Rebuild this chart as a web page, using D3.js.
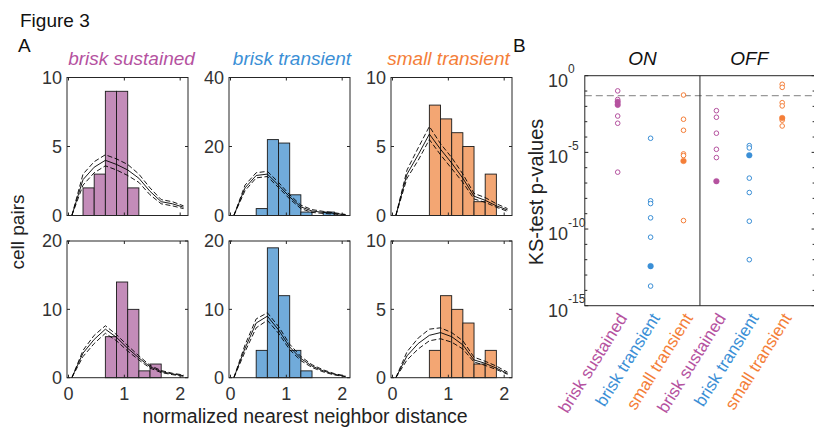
<!DOCTYPE html>
<html lang="en">
<head>
<meta charset="UTF-8" />
<title>Figure 3</title>
<script src="https://d3js.org/d3.v7.min.js"></script>
<style>
  body { margin: 0; background: #fff; }
  svg { display: block; font-family: "Liberation Sans", Arial, sans-serif; }
</style>
</head>
<body>
<svg width="814" height="427"></svg>
<script>
// cell types, shared by both panels
const cellTypes = ["brisk sustained", "brisk transient", "small transient"];
const typeColors = ["#b5529f", "#3b8fd6", "#f47e38"];
const barColors = ["#c38cb9", "#71abda", "#f3a673"];

// panel A: histograms of normalized nearest neighbor distance
const binStart = 0.06;
const binWidth = 0.2;
const xTicks = [0, 1, 2];
const yMax = [[10, 40, 10], [20, 20, 10]];
const yTicks = [[[0, 5, 10], [0, 20, 40], [0, 5, 10]], [[0, 10, 20], [0, 10, 20], [0, 5, 10]]];

// cell pair counts per bin (row, cell type)
const counts = [
  [[0, 2, 3, 9, 9, 2, 0, 0, 0, 0], [0, 0, 2, 22, 21, 6, 1, 0, 1, 0], [0, 0, 0, 8, 7, 6, 5, 1, 3, 0]],
  [[0, 0, 0, 6, 14, 10, 1, 2, 0, 0], [0, 0, 4, 19, 12, 4, 1, 0, 0, 0], [0, 0, 0, 2, 6, 5, 4, 1, 2, 0]]
];

// expected distribution at the bin edges: mean and the two bounds
const expMean = [
  [[0, 2.6, 3.5, 4.0, 3.7, 3.3, 2.7, 1.75, 1.0, 0.85, 0.6],
   [0, 8.0, 11.6, 12.0, 8.8, 5.4, 2.5, 1.3, 0.9, 0.6, 0.2],
   [0, 3.0, 4.4, 5.9, 4.8, 3.8, 2.7, 1.4, 1.1, 0.7, 0.4]],
  [[0, 3.6, 5.6, 7.1, 5.9, 4.3, 2.9, 1.6, 0.9, 0.55, 0.3],
   [0, 4.3, 8.0, 9.0, 7.0, 4.5, 2.8, 1.7, 1.0, 0.5, 0.2],
   [0, 1.6, 2.5, 3.1, 3.3, 3.0, 2.4, 1.3, 1.05, 0.7, 0.3]]
];
const expLo = [
  [[0, 2.2, 3.1, 3.6, 3.3, 2.9, 2.4, 1.5, 0.85, 0.7, 0.5],
   [0, 7.2, 10.9, 11.3, 8.1, 4.8, 2.0, 0.9, 0.6, 0.4, 0.1],
   [0, 2.7, 4.0, 5.5, 4.4, 3.4, 2.4, 1.2, 0.95, 0.6, 0.3]],
  [[0, 3.1, 5.0, 6.5, 5.4, 3.9, 2.6, 1.4, 0.75, 0.45, 0.2],
   [0, 3.8, 7.3, 8.4, 6.5, 4.1, 2.5, 1.5, 0.85, 0.4, 0.15],
   [0, 1.3, 2.1, 2.7, 2.85, 2.6, 2.1, 1.15, 0.9, 0.6, 0.25]]
];
const expHi = [
  [[0, 3.0, 3.9, 4.4, 4.1, 3.7, 3.0, 2.0, 1.15, 1.0, 0.7],
   [0, 8.8, 12.4, 12.8, 9.6, 6.0, 3.0, 1.7, 1.2, 0.8, 0.3],
   [0, 3.3, 4.9, 6.45, 5.2, 4.2, 3.0, 1.6, 1.3, 0.85, 0.5]],
  [[0, 4.0, 6.2, 7.6, 6.3, 4.7, 3.2, 1.8, 1.05, 0.65, 0.4],
   [0, 4.8, 8.6, 9.5, 7.5, 4.9, 3.1, 1.9, 1.15, 0.6, 0.25],
   [0, 1.9, 2.9, 3.55, 3.65, 3.3, 2.7, 1.5, 1.2, 0.85, 0.4]]
];

// panel B: KS-test p-values (log10), columns ON bs, bt, st, OFF bs, bt, st
const groups = ["ON", "OFF"];
const ksOpen = [
  [-0.99, -1.55, -2.63, -3.1, -6.29],
  [-4.08, -8.16, -8.34, -9.27, -10.53, -13.72],
  [-1.26, -2.84, -3.56, -5.1, -5.21, -9.45],
  [-2.28, -2.71, -3.75, -4.8, -5.34],
  [-4.56, -4.71, -6.68, -7.62, -9.49, -12.0],
  [-0.56, -0.76, -1.76, -1.97, -2.9, -3.28]
];
const ksFilled = [
  [-1.7, -1.9],
  [-12.42],
  [-5.56],
  [-6.88],
  [-5.19],
  [-2.76]
];
const pThreshold = 0.05;
const ksTickExp = [0, -5, -10, -15];

const svg = d3.select("svg");
const axisColor = "#262626";
const textColor = "#333";

// ---------- panel A ----------
const panelLeft = [67, 229, 391];
const panelW = 121;
const rowTop = [77.5, 241];
const rowBottom = [215.5, 377.7];
const titleShift = [4, 2.5, -3];
const edgesX = d3.range(11).map(k => binStart + k * binWidth);

rowTop.forEach((T, r) => {
  const B = rowBottom[r];
  panelLeft.forEach((L, c) => {
    const g = svg.append("g");
    const x = d3.scaleLinear().domain([-0.027, 2.14]).range([L, L + panelW]);
    const y = d3.scaleLinear().domain([0, yMax[r][c]]).range([B, T]);

    const bins = counts[r][c]
      .map((v, i) => ({ x0: binStart + i * binWidth, v }))
      .filter(d => d.v > 0);
    g.selectAll("rect.bar").data(bins).enter().append("rect")
      .attr("class", "bar")
      .attr("x", d => x(d.x0))
      .attr("width", d => x(d.x0 + binWidth) - x(d.x0))
      .attr("y", d => y(d.v))
      .attr("height", d => B - y(d.v))
      .attr("fill", barColors[c])
      .attr("stroke", "#1a1a1a")
      .attr("stroke-width", 0.9);

    const line = d3.line().x((d, i) => x(edgesX[i])).y(d => y(d));
    [expLo[r][c], expHi[r][c]].forEach(s => {
      g.append("path").attr("d", line(s))
        .attr("fill", "none").attr("stroke", "#000")
        .attr("stroke-width", 0.9).attr("stroke-dasharray", "5,2.5");
    });
    g.append("path").attr("d", line(expMean[r][c]))
      .attr("fill", "none").attr("stroke", "#000").attr("stroke-width", 0.9);

    // box and inward ticks
    g.append("rect").attr("x", L).attr("y", T)
      .attr("width", panelW).attr("height", B - T)
      .attr("fill", "none").attr("stroke", axisColor).attr("stroke-width", 1);
    yTicks[r][c].forEach(t => {
      g.append("line").attr("x1", L).attr("x2", L + 3).attr("y1", y(t)).attr("y2", y(t))
        .attr("stroke", axisColor);
      g.append("line").attr("x1", L + panelW - 3).attr("x2", L + panelW).attr("y1", y(t)).attr("y2", y(t))
        .attr("stroke", axisColor);
      g.append("text").attr("x", L - 5).attr("y", y(t)).attr("dy", "0.36em")
        .attr("text-anchor", "end").attr("font-size", 18).attr("fill", textColor)
        .text(t);
    });
    xTicks.forEach(t => {
      g.append("line").attr("x1", x(t)).attr("x2", x(t)).attr("y1", B).attr("y2", B - 3)
        .attr("stroke", axisColor);
      g.append("line").attr("x1", x(t)).attr("x2", x(t)).attr("y1", T).attr("y2", T + 3)
        .attr("stroke", axisColor);
      if (r === 1) {
        g.append("text").attr("x", x(t)).attr("y", B + 22)
          .attr("text-anchor", "middle").attr("font-size", 18).attr("fill", textColor)
          .text(t);
      }
    });

    if (r === 0) {
      g.append("text").attr("x", L + panelW / 2 + titleShift[c]).attr("y", 65)
        .attr("text-anchor", "middle").attr("font-size", 19).attr("font-style", "italic")
        .attr("fill", typeColors[c]).text(cellTypes[c]);
    }
  });
});

svg.append("text").attr("x", 305).attr("y", 423).attr("text-anchor", "middle")
  .attr("font-size", 19.5).attr("fill", "#222").text("normalized nearest neighbor distance");
svg.append("text").attr("transform", "translate(24,232) rotate(-90)").attr("text-anchor", "middle")
  .attr("font-size", 19).attr("fill", "#222").text("cell pairs");

svg.append("text").attr("x", 20).attr("y", 27).attr("font-size", 19).attr("fill", "#111").text("Figure 3");
svg.append("text").attr("x", 18).attr("y", 51.5).attr("font-size", 19).attr("fill", "#111").text("A");
svg.append("text").attr("x", 513).attr("y", 51.5).attr("font-size", 19).attr("fill", "#111").text("B");

// ---------- panel B ----------
const bL = 584.8, bR = 815.1, bT = 75.7, bB = 305.7;
const xB = d3.scaleLinear().domain([0, 7]).range([bL, bR]);
const yB = d3.scaleLog().domain([1e-15, 1]).range([bB, bT]);
const gB = svg.append("g");

gB.append("line").attr("x1", bL).attr("x2", bR)
  .attr("y1", yB(pThreshold)).attr("y2", yB(pThreshold))
  .attr("stroke", "#999").attr("stroke-width", 1.1).attr("stroke-dasharray", "7,4");

ksOpen.forEach((vals, i) => {
  const col = typeColors[i % 3];
  gB.selectAll(null).data(vals).enter().append("circle")
    .attr("cx", xB(i + 1)).attr("cy", d => yB(Math.pow(10, d))).attr("r", 2.3)
    .attr("fill", "#fff").attr("stroke", col).attr("stroke-width", 1);
  gB.selectAll(null).data(ksFilled[i]).enter().append("circle")
    .attr("cx", xB(i + 1)).attr("cy", d => yB(Math.pow(10, d))).attr("r", 2.8)
    .attr("fill", col).attr("stroke", col).attr("stroke-width", 0.5);
});

// frame and divider between ON and OFF
gB.append("rect").attr("x", bL).attr("y", bT).attr("width", bR - bL).attr("height", bB - bT)
  .attr("fill", "none").attr("stroke", axisColor).attr("stroke-width", 1);
gB.append("line").attr("x1", xB(3.5)).attr("x2", xB(3.5)).attr("y1", bT).attr("y2", bB)
  .attr("stroke", axisColor).attr("stroke-width", 1);

d3.range(-15, 1).forEach(e => {
  const yy = yB(Math.pow(10, e));
  const len = e % 5 === 0 ? 3.5 : 2.5;
  gB.append("line").attr("x1", bL).attr("x2", bL + len).attr("y1", yy).attr("y2", yy).attr("stroke", axisColor);
  gB.append("line").attr("x1", bR - len).attr("x2", bR).attr("y1", yy).attr("y2", yy).attr("stroke", axisColor);
});
ksTickExp.forEach(e => {
  const yy = yB(Math.pow(10, e));
  const t = gB.append("text").attr("x", 548).attr("y", yy + 11)
    .attr("font-size", 18).attr("fill", textColor);
  t.append("tspan").text("10");
  t.append("tspan").attr("dy", -13.5).attr("font-size", 12).text(e === 0 ? "0" : "-" + (-e));
});

groups.forEach((grp, i) => {
  gB.append("text").attr("x", i === 0 ? xB(1.75) : xB(5)).attr("y", 65)
    .attr("text-anchor", "middle").attr("font-size", 19).attr("font-style", "italic")
    .attr("fill", "#111").text(grp);
});

d3.range(6).forEach(i => {
  gB.append("text")
    .attr("transform", `translate(${xB(i + 1) + 10},318) rotate(-58)`)
    .attr("text-anchor", "end").attr("font-size", 17)
    .attr("fill", typeColors[i % 3]).text(cellTypes[i % 3]);
});

gB.append("text").attr("transform", "translate(543,192) rotate(-90)").attr("text-anchor", "middle")
  .attr("font-size", 20).attr("fill", "#222").text("KS-test p-values");
</script>
</body>
</html>
